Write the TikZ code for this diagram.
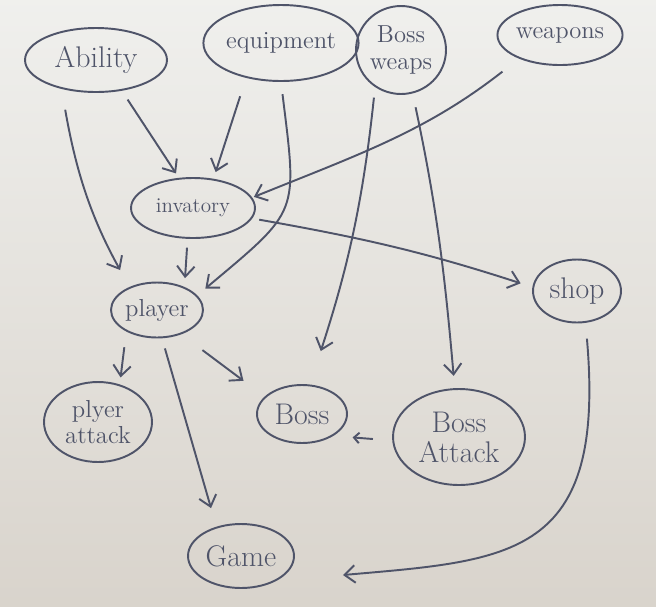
\documentclass[tikz,border=0pt]{standalone}
\usepackage{tikz}
\usetikzlibrary{arrows.meta}
\usetikzlibrary{shapes.geometric}
\tikzset{l/.style={font=\fontsize{17}{17}\selectfont}}
\tikzset{m/.style={font=\fontsize{14}{15}\selectfont}}
\tikzset{s/.style={font=\fontsize{12}{12}\selectfont}}
\tikzset{bub/.style={draw=ink, ellipse, inner sep=0pt, align=center}}
\definecolor{ink}{rgb}{0.31,0.33,0.41}
\definecolor{paper}{rgb}{0.94,0.94,0.93}
\definecolor{paperlow}{rgb}{0.85,0.83,0.80}

\begin{document}
\begin{tikzpicture}[x=0.02cm, y=0.02cm, >={Straight Barb[length=6pt,width=10pt]}]
  \shade [top color=paper, bottom color=paperlow] (0,0) rectangle (656,-606);
  \useasboundingbox (0,0) rectangle (656,-606);
  \begin{scope}[ink, line width=1.1pt, text=ink]
    % top row
    \node [bub, l, minimum width=2.84cm, minimum height=1.28cm] (Ab) at (96,-60) {Ability};
    \node [bub, m, minimum width=2.84cm, minimum height=1.52cm] (Eq) at (281,-43) {equipment};
    \node [bub, m, minimum width=1.8cm, minimum height=1.76cm] (Bw) at (401,-50) {Boss\\weaps};
    \node [bub, m, minimum width=2.48cm, minimum height=1.2cm] (We) at (560,-35) {weapons};
    % middle
    \node [bub, s, minimum width=2.48cm, minimum height=1.2cm] (In) at (193,-208) {invatory};
    \node [bub, m, minimum width=1.84cm, minimum height=1.1cm] (Pl) at (157,-310) {player};
    \node [bub, l, minimum width=1.76cm, minimum height=1.26cm] (Sh) at (577,-291) {shop};
    % bottom
    \node [bub, m, minimum width=2.16cm, minimum height=1.6cm] (Pa) at (98,-422) {plyer\\attack};
    \node [bub, l, minimum width=1.8cm, minimum height=1.16cm] (Bo) at (302,-414) {Boss};
    \node [bub, l, minimum width=2.64cm, minimum height=1.92cm] (Ba) at (459,-437) {Boss\\Attack};
    \node [bub, l, minimum width=2.12cm, minimum height=1.28cm] (Ga) at (241,-556) {Game};
    % connectors
    \path (Ab.220) edge [->, out=-80, in=119, shorten <=12pt, shorten >=11pt] (Pl.140)
          (Ab.-50) edge [->, shorten <=6pt, shorten >=3pt] (In.115);
    \path (Eq.225) edge [->, shorten <=11pt, shorten >=4pt] (In.55)
          (Eq.-90) edge [->, out=-83, in=40, looseness=1.5, shorten <=7pt, shorten >=6pt] (Pl.20);
    \path (Bw.235) edge [->, out=-96, in=72, shorten <=6pt, shorten >=20pt] (Bo.75)
          (Bw.-75) edge [->, out=-78, in=95, shorten <=8pt, shorten >=7pt] (Ba.95);
    \path (We.210) edge [->, out=-142, in=22, shorten <=12pt, shorten >=1pt] (In.10);
    \path (In.-10) edge [->, out=-10, in=162, shorten <=4pt, shorten >=7pt] (Sh.175)
          (In.-100) edge [->, shorten <=5pt, shorten >=5pt] (Pl.40);
    \path (Pl.-145) edge [->, shorten <=9pt, shorten >=4pt] (Pa.60)
          (Pl.-80) edge [->, shorten <=6pt, shorten >=11pt] (Ga.130)
          (Pl.-45) edge [->, shorten <=15pt, shorten >=15pt] (Bo.155);
    \path (Ba.183) edge [-{Straight Barb[length=3pt,width=6pt]}, shorten <=11pt, shorten >=11pt] (Bo.-35);
    \path (Sh.-75) edge [->, out=-85, in=5, looseness=1.5, shorten <=9pt, shorten >=38pt] (Ga.-35);
  \end{scope}
\end{tikzpicture}
\end{document}
